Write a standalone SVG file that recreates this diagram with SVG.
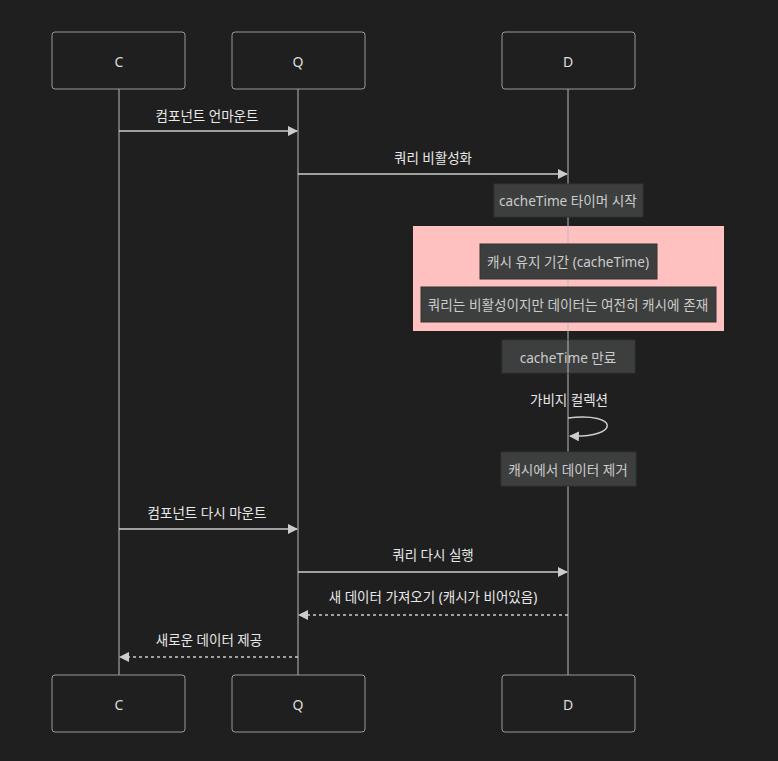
<svg xmlns="http://www.w3.org/2000/svg" width="778" height="761" viewBox="0 0 778 761">
<style>
text{font-family:"Noto Sans","Noto Sans CJK KR",sans-serif;text-anchor:middle;dominant-baseline:central}
.actor rect{fill:#1f1f1f;stroke:#999;stroke-width:1}
.actor text{fill:#ddd;font-size:14px}
.life{stroke:#bbb;stroke-width:1}
.msg{stroke:#ccc;stroke-width:1.5;fill:none}
.dash{stroke-dasharray:3,3}
.lbl{fill:#e8e8e8;font-size:13.5px}
.note rect{fill:#3d3f3f;stroke:#333;stroke-width:1}
.note text{fill:#ccc;font-size:13.6px}
</style>
<defs>
<marker id="ah" viewBox="0 0 10 10" refX="9" refY="5" markerWidth="10" markerHeight="10" markerUnits="userSpaceOnUse" orient="auto">
<path d="M0,0 L10,5 L0,10 z" fill="#ccc"/>
</marker>
</defs>
<rect width="778" height="761" fill="#1f1f1f"/>
<g id="lifelines">
<line class="life" x1="119" y1="89" x2="119" y2="675"/>
<line class="life" x1="298" y1="89" x2="298" y2="675"/>
<line class="life" x1="568" y1="89" x2="568" y2="675"/>
</g>
<g id="loop-rect">
<rect x="413" y="226" width="311" height="105" fill="#ffc0c0"/>
<line class="life" x1="568" y1="226" x2="568" y2="331"/>
</g>
<g id="C-top" class="actor"><rect x="52" y="32" width="133" height="57" rx="3"/><text x="119" y="61">C</text></g>
<g id="Q-top" class="actor"><rect x="232" y="32" width="133" height="57" rx="3"/><text x="298" y="61">Q</text></g>
<g id="D-top" class="actor"><rect x="502" y="32" width="133" height="57" rx="3"/><text x="568" y="61">D</text></g>
<g id="C-bottom" class="actor"><rect x="52" y="675" width="133" height="57" rx="3"/><text x="119" y="704">C</text></g>
<g id="Q-bottom" class="actor"><rect x="232" y="675" width="133" height="57" rx="3"/><text x="298" y="704">Q</text></g>
<g id="D-bottom" class="actor"><rect x="502" y="675" width="133" height="57" rx="3"/><text x="568" y="704">D</text></g>
<g id="note1" class="note"><rect x="494" y="184" width="149" height="33"/><text x="568" y="200.5">cacheTime 타이머 시작</text></g>
<g id="note2" class="note"><rect x="480" y="244" width="177" height="35"/><text x="568" y="261.5">캐시 유지 기간 (cacheTime)</text></g>
<g id="note3" class="note"><rect x="421" y="287" width="295" height="35"/><text x="568" y="304.5">쿼리는 비활성이지만 데이터는 여전히 캐시에 존재</text></g>
<g id="note4" class="note"><rect x="502" y="340" width="133" height="33"/><line class="life" x1="568" y1="340" x2="568" y2="373"/><text x="568" y="357">cacheTime 만료</text></g>
<g id="note5" class="note"><rect x="501" y="452" width="135" height="34"/><text x="568" y="469">캐시에서 데이터 제거</text></g>
<g id="connectors">
<line class="msg" x1="119" y1="131" x2="297" y2="131" marker-end="url(#ah)"/>
<text class="lbl" x="207" y="116">컴포넌트 언마운트</text>
<line class="msg" x1="298" y1="174" x2="567" y2="174" marker-end="url(#ah)"/>
<text class="lbl" x="433" y="158">쿼리 비활성화</text>
<path class="msg" d="M568,418 C620,412 620,438 570,436" marker-end="url(#ah)"/>
<text class="lbl" x="569" y="400">가비지 컬렉션</text>
<line class="msg" x1="119" y1="529" x2="297" y2="529" marker-end="url(#ah)"/>
<text class="lbl" x="207" y="513">컴포넌트 다시 마운트</text>
<line class="msg" x1="298" y1="572" x2="567" y2="572" marker-end="url(#ah)"/>
<text class="lbl" x="433" y="555">쿼리 다시 실행</text>
<line class="msg dash" x1="568" y1="615" x2="299" y2="615" marker-end="url(#ah)"/>
<text class="lbl" x="433" y="597">새 데이터 가져오기 (캐시가 비어있음)</text>
<line class="msg dash" x1="298" y1="657" x2="120" y2="657" marker-end="url(#ah)"/>
<text class="lbl" x="209" y="640">새로운 데이터 제공</text>
</g>
</svg>
